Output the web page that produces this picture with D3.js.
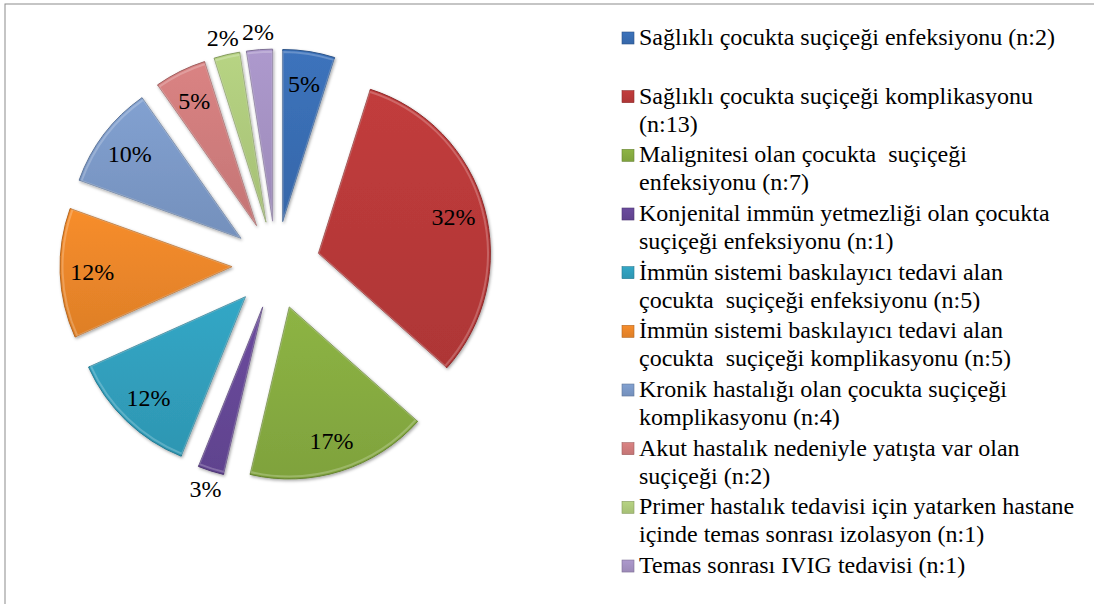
<!DOCTYPE html>
<html>
<head>
<meta charset="utf-8">
<script src="https://cdn.jsdelivr.net/npm/d3@7"></script>
<style>
  body { margin: 0; background: #fff; }
  svg { display: block; }
</style>
</head>
<body>
<div id="chart"></div>
<script>
const categories = [
  "Sağlıklı çocukta suçiçeği enfeksiyonu (n:2)",
  "Sağlıklı çocukta suçiçeği komplikasyonu\n(n:13)",
  "Malignitesi olan çocukta  suçiçeği\nenfeksiyonu (n:7)",
  "Konjenital immün yetmezliği olan çocukta\nsuçiçeği enfeksiyonu (n:1)",
  "İmmün sistemi baskılayıcı tedavi alan\nçocukta  suçiçeği enfeksiyonu (n:5)",
  "İmmün sistemi baskılayıcı tedavi alan\nçocukta  suçiçeği komplikasyonu (n:5)",
  "Kronik hastalığı olan çocukta suçiçeği\nkomplikasyonu (n:4)",
  "Akut hastalık nedeniyle yatışta var olan\nsuçiçeği (n:2)",
  "Primer hastalık tedavisi için yatarken hastane\niçinde temas sonrası izolasyon (n:1)",
  "Temas sonrası IVIG tedavisi (n:1)"
];
const counts = [2, 13, 7, 1, 5, 5, 4, 2, 1, 1];
const pctLabels = ["5%", "32%", "17%", "3%", "12%", "12%", "10%", "5%", "2%", "2%"];
const colors = ["#3a6fb5", "#bb3a3a", "#88ae42", "#674898", "#31a1bf",
                "#ee882a", "#7d9bca", "#d27e7e", "#b1cd7e", "#a794c6"];

const width = 1094, height = 604;
const cx = 276, cy = 265, r = 172, explode = 44;

const svg = d3.select("#chart").append("svg")
  .attr("width", width)
  .attr("height", height);

svg.append("rect")
  .attr("x", 5).attr("y", 4)
  .attr("width", width + 10).attr("height", height + 10)
  .attr("fill", "#fff")
  .attr("stroke", "#8c8c8c")
  .attr("stroke-width", 1);

const defs = svg.append("defs");
colors.forEach((c, i) => {
  const g = defs.append("linearGradient")
    .attr("id", "grad" + i)
    .attr("x1", 0).attr("y1", 0).attr("x2", 0).attr("y2", 1);
  g.append("stop").attr("offset", "0%").attr("stop-color", d3.color(c).brighter(0.1));
  g.append("stop").attr("offset", "100%").attr("stop-color", d3.color(c).darker(0.2));
});
const shadow = defs.append("filter").attr("id", "shadow")
  .attr("x", "-20%").attr("y", "-20%").attr("width", "140%").attr("height", "140%");
shadow.append("feDropShadow")
  .attr("dx", 1).attr("dy", 1.5).attr("stdDeviation", 1.5)
  .attr("flood-color", "#000").attr("flood-opacity", 0.35);

const pie = d3.pie().sort(null).value(d => d);
const arcs = pie(counts);

const arc = d3.arc().innerRadius(0).outerRadius(r);
const bevel = d3.arc().innerRadius(0).outerRadius(r - 2.5);

const slices = svg.append("g")
  .attr("transform", `translate(${cx},${cy})`)
  .selectAll("g")
  .data(arcs)
  .join("g")
  .attr("transform", d => {
    const a = (d.startAngle + d.endAngle) / 2;
    return `translate(${explode * Math.sin(a)},${-explode * Math.cos(a)})`;
  });

slices.append("path")
  .attr("d", arc)
  .attr("fill", (d, i) => `url(#grad${i})`)
  .attr("stroke", (d, i) => d3.color(colors[i]).darker(0.8))
  .attr("stroke-width", 1)
  .attr("filter", "url(#shadow)");

slices.append("path")
  .attr("d", bevel)
  .attr("fill", "none")
  .attr("stroke", "#fff")
  .attr("stroke-opacity", 0.22)
  .attr("stroke-width", 2);

slices.append("text")
  .attr("transform", d => {
    const a = (d.startAngle + d.endAngle) / 2;
    const small = (d.endAngle - d.startAngle) < 0.17;
    const dist = small ? 190 : 140;
    return `translate(${dist * Math.sin(a)},${-dist * Math.cos(a)})`;
  })
  .attr("text-anchor", "middle")
  .attr("dy", "0.35em")
  .attr("font-family", "'Liberation Serif', 'Times New Roman', serif")
  .attr("font-size", 24)
  .attr("fill", "#000")
  .text((d, i) => pctLabels[i]);

// legend
const legendX = 622, legendTop = 45, entryStep = 58.67, lineStep = 28;
const legend = svg.append("g")
  .selectAll("g")
  .data(categories)
  .join("g")
  .attr("transform", (d, i) => `translate(${legendX},${legendTop + i * entryStep})`);

legend.append("rect")
  .attr("x", 0).attr("y", -13)
  .attr("width", 12).attr("height", 12)
  .attr("fill", (d, i) => `url(#grad${i})`)
  .attr("stroke", (d, i) => d3.color(colors[i]).darker(0.8))
  .attr("stroke-width", 0.6);

legend.append("text")
  .attr("x", 17)
  .attr("font-family", "'Liberation Serif', 'Times New Roman', serif")
  .attr("font-size", 24)
  .attr("fill", "#000")
  .style("white-space", "pre")
  .selectAll("tspan")
  .data(d => d.split("\n"))
  .join("tspan")
  .attr("x", 17)
  .attr("y", (d, j) => j * lineStep)
  .text(d => d);
</script>
</body>
</html>
